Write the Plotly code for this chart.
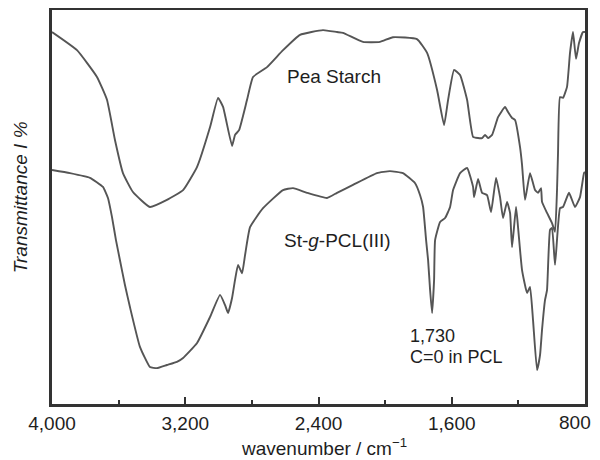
import plotly.graph_objects as go

# Pea Starch spectrum (wavenumber cm^-1, transmittance a.u.)
pea_wn = [4000, 3850, 3730, 3670, 3622, 3574, 3514, 3412, 3310, 3213, 3129, 3051, 3003, 2973,
          2919, 2901, 2877, 2829, 2793, 2709, 2613, 2511, 2373, 2289, 2253, 2133, 2031, 1953,
          1809, 1748, 1688, 1646, 1622, 1586, 1550, 1508, 1472, 1442, 1418, 1400, 1382, 1358,
          1322, 1280, 1262, 1238, 1220, 1190, 1178, 1160, 1130, 1100, 1082, 1064, 1058, 1028,
          998, 980, 968, 962, 950, 932, 908, 890, 872, 854, 836, 812, 800]
pea_t = [94.4, 89.8, 83.0, 77.2, 67.0, 58.6, 53.8, 50.0, 51.8, 54.3, 60.2, 70.3, 77.7, 75.4,
         65.5, 68.3, 69.5, 77.2, 83.0, 85.5, 89.8, 93.7, 94.9, 94.4, 94.2, 91.9, 91.9, 93.1,
         92.6, 89.1, 79.7, 70.8, 77.2, 84.8, 83.5, 77.2, 67.8, 67.5, 67.5, 68.3, 67.5, 68.3,
         72.8, 75.4, 74.1, 72.6, 72.1, 65.2, 60.7, 51.8, 58.6, 54.3, 53.6, 54.8, 51.3, 48.5,
         45.9, 43.7, 54.3, 63.7, 77.9, 77.7, 80.5, 89.1, 94.4, 87.6, 91.6, 94.4, 94.4]

# St-g-PCL(III) spectrum
pcl_wn = [4000, 3892, 3772, 3694, 3664, 3640, 3616, 3592, 3562, 3532, 3472, 3412, 3370, 3310,
          3250, 3213, 3129, 3051, 2991, 2961, 2943, 2919, 2901, 2883, 2859, 2841, 2811, 2733,
          2613, 2553, 2469, 2349, 2289, 2193, 2049, 1971, 1893, 1821, 1790, 1772, 1754, 1742,
          1730, 1718, 1706, 1700, 1670, 1640, 1610, 1592, 1550, 1508, 1472, 1466, 1442, 1418,
          1388, 1364, 1334, 1310, 1292, 1268, 1250, 1238, 1214, 1202, 1190, 1178, 1148, 1130,
          1112, 1088, 1070, 1058, 1040, 1028, 1010, 998, 980, 950, 932, 896, 860, 830, 806, 800]
pcl_t = [59.4, 58.6, 57.4, 55.1, 52.3, 47.5, 41.6, 36.5, 30.2, 24.6, 14.5, 9.4, 9.1, 9.9,
         10.7, 11.7, 15.5, 22.1, 27.7, 25.1, 23.1, 26.9, 31.5, 35.3, 33.2, 37.8, 44.9, 49.7,
         54.3, 54.8, 53.6, 52.3, 53.6, 55.6, 58.6, 59.1, 58.6, 56.1, 53.0, 50.0, 41.6, 36.5,
         28.9, 23.1, 31.5, 41.6, 46.2, 47.2, 50.0, 54.3, 58.6, 59.9, 55.1, 52.5, 57.1, 53.6,
         53.0, 48.7, 57.4, 52.5, 47.2, 51.3, 48.5, 39.8, 50.0, 44.9, 39.1, 34.0, 28.2, 29.7,
         21.3, 8.6, 12.4, 18.8, 26.4, 28.9, 44.2, 44.7, 35.3, 49.7, 50.0, 53.6, 50.0, 52.5, 58.6, 58.9]

major_ticks = [4000, 3200, 2400, 1600, 800]
major_labels = ["4,000", "3,200", "2,400", "1,600", ""]
end_tick_label = "800"   # drawn right-aligned at the 800 tick so it stays inside the page
minor_ticks = [3600, 2800, 2000, 1200]

FONT = "Liberation Sans, Arial, sans-serif"
LINE = "#555555"
FRAME = "#333333"
TXT = "#1e1e1e"

fig = go.Figure()
for wn, t in [(pea_wn, pea_t), (pcl_wn, pcl_t)]:
    fig.add_trace(go.Scatter(x=wn, y=t, mode="lines",
                             line=dict(color=LINE, width=1.9, shape="spline", smoothing=0.4),
                             showlegend=False, hoverinfo="skip"))

# the page body has an 8px default margin, so the figure is 592x452 and offset by 8px
fig.update_layout(
    width=592, height=452,
    margin=dict(l=44, r=15, t=2, b=56, autoexpand=False),
    paper_bgcolor="white", plot_bgcolor="white",
    font=dict(family=FONT, size=19, color=TXT),
    xaxis=dict(range=[4000, 800], showgrid=False, zeroline=False, automargin=False,
               showline=True, linecolor=FRAME, linewidth=2.5, mirror=True,
               ticks="inside", ticklen=7, tickwidth=2, tickcolor=FRAME,
               tickmode="array", tickvals=major_ticks, ticktext=major_labels,
               tickfont=dict(family=FONT, size=19, color=TXT),
               minor=dict(tickmode="array", tickvals=minor_ticks, ticks="inside",
                          ticklen=4, tickwidth=2, tickcolor=FRAME)),
    yaxis=dict(range=[0, 100], showgrid=False, zeroline=False, automargin=False,
               showline=True, linecolor=FRAME, linewidth=2.5, mirror=True,
               ticks="", showticklabels=False),
    annotations=[
        dict(text=end_tick_label, xref="x", yref="paper", x=major_ticks[-1], y=-0.048,
             xanchor="right", yanchor="middle", xshift=8, showarrow=False,
             font=dict(size=19)),
        dict(text="<i>Transmittance I %</i>", xref="paper", yref="paper",
             x=-0.060, y=0.525, textangle=-90, showarrow=False,
             xanchor="center", yanchor="middle", font=dict(size=19)),
        dict(text="wavenumber / cm<sup>\u22121</sup>", xref="paper", yref="paper",
             x=0.51, y=-0.108, showarrow=False, xanchor="center", yanchor="middle",
             font=dict(size=19)),
        dict(text="Pea Starch", x=2307, y=83.0, showarrow=False,
             xanchor="center", yanchor="middle", font=dict(size=19)),
        dict(text="St-<i>g</i>-PCL(III)", x=2283, y=41.6, showarrow=False,
             xanchor="center", yanchor="middle", font=dict(size=19)),
        dict(text="1,730", x=1863, y=17.3, showarrow=False,
             xanchor="left", yanchor="middle", font=dict(size=18)),
        dict(text="C=0 in PCL", x=1863, y=11.9, showarrow=False,
             xanchor="left", yanchor="middle", font=dict(size=18)),
    ],
)

fig.write_html("out.html")
